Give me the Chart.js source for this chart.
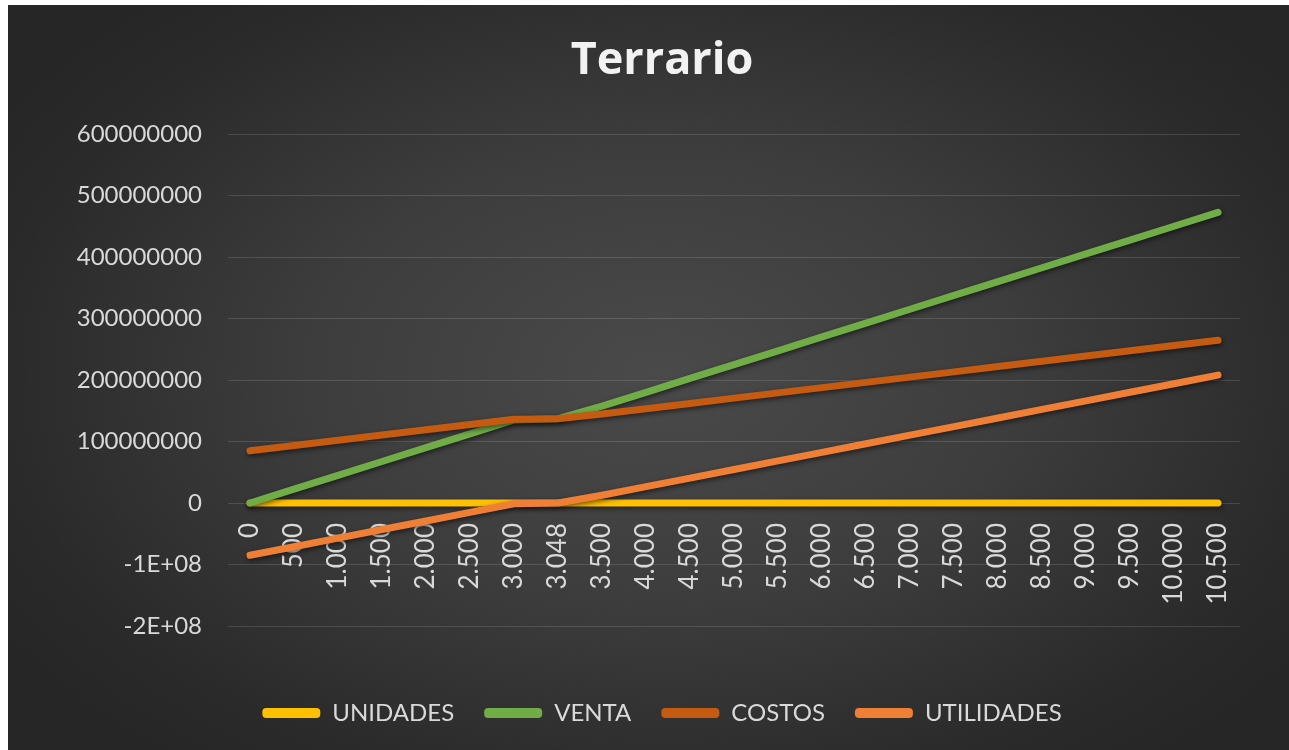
<!DOCTYPE html>
<html lang="es">
<head>
    <meta charset="UTF-8">
    <title>Terrario</title>
    <script src="https://cdn.jsdelivr.net/npm/chart.js"></script>
    <style>
        html, body { margin: 0; padding: 0; background: #fff; overflow: hidden; }
        #chart-box {
            position: absolute;
            left: 8px;
            top: 5px;
            width: 1308px;
            height: 770px;
            background: radial-gradient(ellipse 60% 65% at 50% 48%, #4a4a4a 0%, #3d3d3d 45%, #2a2a2a 85%, #262626 100%);
        }
    </style>
</head>
<body>
    <div id="chart-box">
        <canvas id="lineChart"></canvas>
    </div>

    <script>
        const categories = ['0', '500', '1.000', '1.500', '2.000', '2.500', '3.000', '3.048', '3.500', '4.000', '4.500',
            '5.000', '5.500', '6.000', '6.500', '7.000', '7.500', '8.000', '8.500', '9.000', '9.500', '10.000', '10.500'];

        const unidades = [0, 500, 1000, 1500, 2000, 2500, 3000, 3048, 3500, 4000, 4500,
            5000, 5500, 6000, 6500, 7000, 7500, 8000, 8500, 9000, 9500, 10000, 10500];

        const venta = [0, 22500000, 45000000, 67500000, 90000000, 112500000, 135000000, 137160000, 157500000, 180000000, 202500000,
            225000000, 247500000, 270000000, 292500000, 315000000, 337500000, 360000000, 382500000, 405000000, 427500000, 450000000, 472500000];

        const costos = [85000000, 93550000, 102100000, 110650000, 119200000, 127750000, 136300000, 137120000, 144850000, 153400000, 161950000,
            170500000, 179050000, 187600000, 196150000, 204700000, 213250000, 221800000, 230350000, 238900000, 247450000, 256000000, 264550000];

        const utilidades = [-85000000, -71050000, -57100000, -43150000, -29200000, -15250000, -1300000, 40000, 12650000, 26600000, 40550000,
            54500000, 68450000, 82400000, 96350000, 110300000, 124250000, 138200000, 152150000, 166100000, 180050000, 194000000, 207950000];

        const yTicks = { min: -200000000, max: 600000000, step: 100000000 };

        const textColor = '#d9d9d9';

        // sombra debajo de las lineas, como en Excel
        const lineShadow = {
            id: 'lineShadow',
            beforeDatasetDraw(chart) {
                const ctx = chart.ctx;
                ctx.save();
                ctx.shadowColor = 'rgba(0, 0, 0, 0.55)';
                ctx.shadowBlur = 5;
                ctx.shadowOffsetX = 1;
                ctx.shadowOffsetY = 2;
            },
            afterDatasetDraw(chart) {
                chart.ctx.restore();
            }
        };

        function serie(label, data, color, order) {
            return {
                label: label,
                data: data,
                borderColor: color,
                backgroundColor: color,
                borderWidth: 7,
                borderCapStyle: 'round',
                borderJoinStyle: 'round',
                pointRadius: 0,
                tension: 0,
                order: order
            };
        }

        new Chart(document.getElementById('lineChart'), {
            type: 'line',
            data: {
                labels: categories,
                datasets: [
                    serie('UNIDADES', unidades, '#FFC000', 4),
                    serie('VENTA', venta, '#70AD47', 3),
                    serie('COSTOS', costos, '#C55A11', 2),
                    serie('UTILIDADES', utilidades, '#EE7F35', 1)
                ]
            },
            options: {
                responsive: true,
                maintainAspectRatio: false,
                animation: false,
                layout: {
                    padding: { top: 0, left: 76, right: 76, bottom: 40 }
                },
                scales: {
                    x: {
                        position: { y: 0 },
                        offset: true,
                        grid: { display: false },
                        border: { display: false },
                        ticks: {
                            color: textColor,
                            font: { family: 'Lato', size: 26 },
                            maxRotation: 90,
                            minRotation: 90,
                            autoSkip: false,
                            padding: 12
                        }
                    },
                    y: {
                        min: yTicks.min,
                        max: yTicks.max,
                        grid: {
                            color: 'rgba(255, 255, 255, 0.13)',
                            lineWidth: 1,
                            drawTicks: false
                        },
                        border: { display: false },
                        ticks: {
                            stepSize: yTicks.step,
                            color: textColor,
                            font: { family: 'Lato', size: 24 },
                            padding: 26,
                            callback: function (value) {
                                if (value < 0) {
                                    return '-' + (Math.abs(value) / 100000000) + 'E+08';
                                }
                                return String(value);
                            }
                        },
                        afterFit: function (scale) {
                            scale.width = 144;
                            // las etiquetas salen del ancho del eje, no recortarlas
                            scale._computeLabelArea = function () { return null; };
                        }
                    }
                },
                plugins: {
                    title: {
                        display: true,
                        text: 'Terrario',
                        color: '#f2f2f2',
                        font: { family: 'Open Sans', size: 45, weight: 'bold' },
                        padding: { top: 29, bottom: 46 }
                    },
                    legend: {
                        position: 'bottom',
                        // titulo vacio: deja espacio entre el grafico y la leyenda
                        title: {
                            display: true,
                            text: '',
                            font: { size: 10 },
                            padding: { top: 33, bottom: 0 }
                        },
                        labels: {
                            color: textColor,
                            font: { family: 'Lato', size: 24 },
                            boxWidth: 58,
                            boxHeight: 10,
                            padding: 30,
                            useBorderRadius: true,
                            borderRadius: 4,
                            sort: function (a, b) {
                                return a.datasetIndex - b.datasetIndex;
                            },
                            generateLabels: function (chart) {
                                const items = Chart.defaults.plugins.legend.labels.generateLabels(chart);
                                items.forEach(item => {
                                    item.lineWidth = 0;
                                    item.strokeStyle = 'transparent';
                                });
                                return items;
                            }
                        }
                    },
                    tooltip: { enabled: false }
                }
            },
            plugins: [lineShadow]
        });
    </script>
</body>
</html>
